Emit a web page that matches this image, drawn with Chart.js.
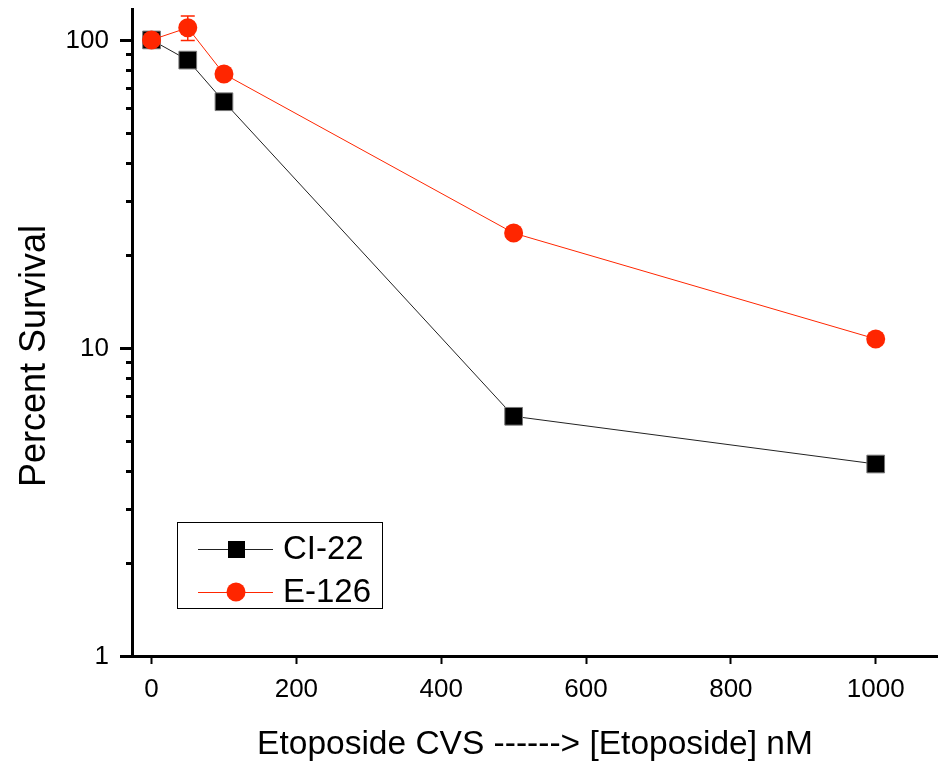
<!DOCTYPE html>
<html>
<head>
<meta charset="utf-8">
<script src="https://cdn.jsdelivr.net/npm/chart.js@4.4.1/dist/chart.umd.min.js"></script>
<style>
  html, body { margin: 0; padding: 0; background: #fff; }
  #wrap { width: 938px; height: 766px; }
</style>
</head>
<body>
<div id="wrap"><canvas id="myChart" width="938" height="766"></canvas></div>
<script>
"use strict"
// Werte
const doses = [0, 50, 100, 500, 1000];            // [Etoposide] nM
const ci22 = [100, 86, 63, 6.0, 4.2];              // CI-22 Percent Survival
const e126 = [100, 109.5, 77.5, 23.6, 10.7];       // E-126 Percent Survival
const e126Err = [0, 10, 0, 0, 0.4];                // Fehlerbalken E-126
const xTicks = [0, 200, 400, 600, 800, 1000];
const yTicks = [1, 2, 3, 4, 5, 6, 7, 8, 9, 10, 20, 30, 40, 50, 60, 70, 80, 90, 100];
const yLabels = ['1', '10', '100'];
const seriesNames = ['CI-22', 'E-126'];

const FONT = "'Liberation Sans', Arial, sans-serif";
const RED = 'rgb(255,38,0)';

function pts(ys) {
    return doses.map((d, i) => ({ x: d, y: ys[i] }));
}

// eigene Zeichnungen: Tick-Beschriftung, Y-Ticks, Fehlerbalken, Legende, Y-Titel
const extras = {
    id: 'extras',
    afterDatasetsDraw(chart) {
        const ctx = chart.ctx;
        const xs = chart.scales.x, ys = chart.scales.y;
        // Fehlerbalken
        ctx.save();
        ctx.strokeStyle = RED;
        ctx.lineWidth = 1.5;
        for (let i = 0; i < doses.length; i++) {
            if (!e126Err[i]) continue;
            const px = xs.getPixelForValue(doses[i]);
            const top = ys.getPixelForValue(e126[i] + e126Err[i]);
            const bot = ys.getPixelForValue(e126[i] - e126Err[i]);
            ctx.beginPath();
            ctx.moveTo(px, top); ctx.lineTo(px, bot);
            ctx.moveTo(px - 7, top); ctx.lineTo(px + 7, top);
            ctx.moveTo(px - 7, bot); ctx.lineTo(px + 7, bot);
            ctx.stroke();
        }
        ctx.restore();
    },
    afterDraw(chart) {
        const ctx = chart.ctx;
        const xs = chart.scales.x, ys = chart.scales.y;
        const left = chart.chartArea.left;
        ctx.save();
        // Y-Ticks (major lang, minor kurz)
        ctx.strokeStyle = '#000';
        ctx.lineWidth = 3;
        yTicks.forEach(v => {
            const py = Math.round(ys.getPixelForValue(v)) + 0.5;
            const major = yLabels.includes(String(v));
            ctx.beginPath();
            ctx.moveTo(left - (major ? 12 : 6), py);
            ctx.lineTo(left, py);
            ctx.stroke();
        });

        // Tick-Beschriftung
        ctx.fillStyle = '#000';
        ctx.font = '26px ' + FONT;
        ctx.textBaseline = 'middle';
        ctx.textAlign = 'right';
        yLabels.forEach(l => {
            ctx.fillText(l, 109, ys.getPixelForValue(Number(l)) + 1);
        });
        ctx.textAlign = 'center';
        xTicks.forEach(v => {
            ctx.fillText(String(v), xs.getPixelForValue(v), 690);
        });

        // Y-Titel
        ctx.font = '36px ' + FONT;
        ctx.translate(35, 356);
        ctx.rotate(-Math.PI / 2);
        ctx.fillText('Percent Survival', 0, 0);
        ctx.restore();

        // Legende
        ctx.save();
        ctx.strokeStyle = '#000';
        ctx.lineWidth = 1;
        ctx.strokeRect(177.5, 522.5, 205, 86);
        const rows = [549, 592];
        chart.data.datasets.slice().sort((a, b) => seriesNames.indexOf(a.label) - seriesNames.indexOf(b.label)).forEach((ds, i) => {
            const y = rows[i];
            ctx.strokeStyle = ds.borderColor;
            ctx.lineWidth = 1;
            ctx.beginPath();
            ctx.moveTo(198, y + 0.5); ctx.lineTo(273, y + 0.5);
            ctx.stroke();
            ctx.fillStyle = ds.pointBackgroundColor;
            if (ds.pointStyle === 'rect') {
                ctx.fillRect(228, y - 8, 17, 17);
            } else {
                ctx.beginPath();
                ctx.arc(236, y, 9.5, 0, Math.PI * 2);
                ctx.fill();
            }
            ctx.fillStyle = '#000';
            ctx.font = '33px ' + FONT;
            ctx.textAlign = 'left';
            ctx.textBaseline = 'middle';
            ctx.fillText(ds.label, 283, y + 1);
        });
        ctx.restore();
    }
};

const config = {
    type: 'scatter',
    data: {
        datasets: [{
            label: seriesNames[1],
            data: pts(e126),
            showLine: true,
            borderColor: RED,
            borderWidth: 1,
            pointStyle: 'circle',
            pointRadius: 9.5,
            pointHoverRadius: 9.5,
            pointBackgroundColor: RED,
            pointBorderWidth: 0,
            order: 0
        }, {
            label: seriesNames[0],
            data: pts(ci22),
            showLine: true,
            borderColor: '#222',
            borderWidth: 1,
            pointStyle: 'rect',
            pointRadius: 12.5,
            pointHoverRadius: 12.5,
            pointBackgroundColor: '#000',
            pointBorderColor: '#777',
            pointBorderWidth: 1,
            order: 1
        }]
    },
    options: {
        responsive: false,
        animation: false,
        clip: false,
        layout: { autoPadding: false, padding: { top: 9, right: 0, left: 0, bottom: 0 } },
        plugins: {
            legend: { display: false },
            tooltip: { enabled: false }
        },
        scales: {
            x: {
                type: 'linear',
                min: -27,
                max: 1086,
                afterBuildTicks: s => { s.ticks = xTicks.map(v => ({ value: v })); },
                afterFit: s => { s.height = 110; },
                border: { display: true, color: '#000', width: 3 },
                grid: { drawOnChartArea: false, drawTicks: true, tickLength: 8, tickWidth: 2, tickColor: '#000' },
                ticks: { display: false },
                title: {
                    display: true,
                    text: 'Etoposide CVS ------> [Etoposide] nM',
                    color: '#000',
                    font: { family: FONT, size: 33.5, lineHeight: 1 },
                    padding: { top: 4, bottom: 4 }
                }
            },
            y: {
                type: 'logarithmic',
                min: 1,
                max: 126,
                afterBuildTicks: s => { s.ticks = yTicks.map(v => ({ value: v })); },
                afterFit: s => { s.width = 132; },
                border: { display: true, color: '#000', width: 3 },
                grid: { display: false, drawTicks: false },
                ticks: { display: false }
            }
        }
    },
    plugins: [extras]
};

var my_chart = new Chart(document.getElementById('myChart'), config);
</script>
</body>
</html>
